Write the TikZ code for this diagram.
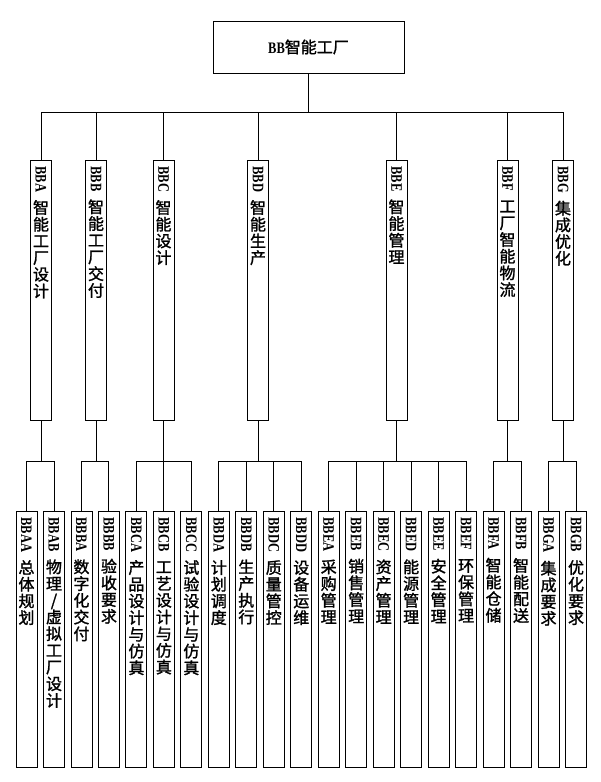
\documentclass[tikz,border=0pt]{standalone}
\usepackage{fontspec}
\setmainfont{Liberation Serif}
\newfontfamily\cjkfont[FakeBold=1.5]{Noto Sans CJK SC}
\usetikzlibrary{positioning}

\newcommand\codetext[1]{\scalebox{0.78}[1]{\fontsize{16}{16}\selectfont\bfseries #1}}
\newcommand\cjkcell[1]{\hbox to 21pt{\hss\vrule width 0pt height 13.5pt depth 3.2pt #1\hss}}
\makeatletter
\newcommand\cjkstack[1]{\expandafter\cjk@stack#1\relax}
\def\cjk@stack#1{\ifx\relax#1\else\cjkcell{#1}\expandafter\cjk@stack\fi}
\makeatother
\newcommand\vlabel[3]{%
    \vbox to #1{\offinterlineskip\vskip 6pt
        \hbox to 21pt{\hss\rotatebox{-90}{\codetext{#2}}\hss}
        \vskip 8pt
        \cjkfont\fontsize{16}{16.7}\selectfont
        \cjkstack{#3}
        \vfill}}

\tikzset{
    topbox/.style = {draw, line width=0.9pt, minimum width=191pt, minimum height=52pt, inner sep=0pt},
    groupbox/.style = {draw, line width=0.9pt, minimum width=21pt, inner sep=0pt, anchor=north},
    itembox/.style = {groupbox},
    branch/.style = {line width=0.9pt}
}

\begin{document}
\begin{tikzpicture}[x=1pt,y=-1pt]
    \useasboundingbox (0,0) rectangle (601,782);
    \node[topbox] (BB) at (308.5,47) {\codetext{BB}{\cjkfont\fontsize{16}{16}\selectfont 智能工厂}};

    \foreach \Name/\X/\Title in {%
        A/41/智能工厂设计,
        B/96/智能工厂交付,
        C/163.5/智能设计,
        D/258/智能生产,
        E/396.5/智能管理,
        F/507.5/工厂智能物流,
        G/563/集成优化}
        {
        \node[groupbox] (BB\Name) at (\X,160) {\vlabel{260pt}{BB\Name}{\Title}};
        \draw[branch] (BB.south) -- ++(0,39) -| (BB\Name.north);
        }

    \foreach \Name/\Parent/\Title [count=\i from 0] in {%
        AA/A/总体规划,
        AB/A/{物理/虚拟工厂设计},
        BA/B/数字化交付,
        BB/B/验收要求,
        CA/C/产品设计与仿真,
        CB/C/工艺设计与仿真,
        CC/C/试验设计与仿真,
        DA/D/计划调度,
        DB/D/生产执行,
        DC/D/质量管控,
        DD/D/设备运维,
        EA/E/采购管理,
        EB/E/销售管理,
        EC/E/资产管理,
        ED/E/能源管理,
        EE/E/安全管理,
        EF/E/环保管理,
        FA/F/智能仓储,
        FB/F/智能配送,
        GA/G/集成要求,
        GB/G/优化要求}
        {
        \node[itembox] (BB\Name) at ({26.5+27.475*\i},511) {\vlabel{256pt}{BB\Name}{\Title}};
        \draw[branch] (BB\Parent.south) -- ++(0,41) -| (BB\Name.north);
        }
\end{tikzpicture}
\end{document}
